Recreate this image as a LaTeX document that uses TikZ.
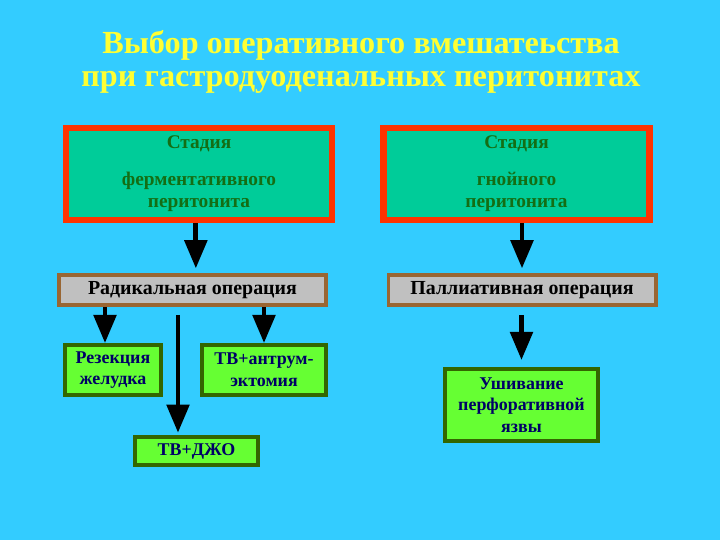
\documentclass[tikz,border=0pt]{standalone}
\usepackage{fontspec}
\setmainfont{Liberation Serif}
\usetikzlibrary{positioning,arrows.meta}
\definecolor{bgblue}{RGB}{51,204,255}
\definecolor{titleyellow}{RGB}{255,255,51}
\definecolor{stagefill}{RGB}{0,204,153}
\definecolor{stageborder}{RGB}{255,51,0}
\definecolor{stagetext}{RGB}{20,110,20}
\definecolor{opfill}{RGB}{192,192,192}
\definecolor{opborder}{RGB}{153,102,51}
\definecolor{resfill}{RGB}{102,255,51}
\definecolor{resborder}{RGB}{51,102,0}
\definecolor{restext}{RGB}{0,0,102}

\begin{document}
\begin{tikzpicture}[x=0.03cm,y=-0.03cm,
                every node/.style={align=center, inner sep=0pt, font=\bfseries},
                title/.style={text=titleyellow, font=\bfseries\fontsize{27.5}{28.5}\selectfont},
                stage/.style={rectangle, draw=stageborder, fill=stagefill, line width=5.5pt,
                    text=stagetext, minimum width=7.98cm, minimum height=2.76cm,
                    font=\bfseries\fontsize{16.5}{19.5}\selectfont},
                operation/.style={rectangle, draw=opborder, fill=opfill, line width=3.4pt,
                    minimum width=8.01cm, minimum height=0.9cm,
                    font=\bfseries\fontsize{17}{19}\selectfont},
                result/.style={rectangle, draw=resborder, fill=resfill, line width=3.4pt,
                    text=restext, font=\bfseries\fontsize{15.3}{18.5}\selectfont},
                arr/.style={line width=4pt, -{Triangle[length=24pt,width=19pt]}}]
    \fill[bgblue] (0,0) rectangle (720,540);
    \useasboundingbox (0,0) rectangle (720,540);

    \node[title] (title) at (361,62) {Выбор оперативного вмешатеьства\\при гастродуоденальных перитонитах};

    \node[stage] (stage1) at (199,174) {Стадия\\[11.5pt]ферментативного\\перитонита};
    \node[stage] (stage2) at (516.5,174) {Стадия\\[11.5pt]гнойного\\перитонита};

    \node[operation] (radical) at (192.5,290) {Радикальная операция};
    \node[operation] (palliative) at (522,290) {Паллиативная операция};

    \node[result, minimum width=2.88cm, minimum height=1.5cm] (resection) at (113,370) {Резекция\\желудка};
    \node[result, minimum width=3.72cm, minimum height=1.5cm] (antrum) at (264,370) {ТВ+антрум-\\эктомия};
    \node[result, minimum width=3.69cm, minimum height=0.84cm] (djo) at (196.5,451) {ТВ+ДЖО};
    \node[result, minimum width=4.59cm, minimum height=2.16cm] (suture) at (521.5,405) {Ушивание\\перфоративной\\язвы};

    \coordinate (vagot) at (178,315);

    \draw[arr, shorten >=4pt] ([xshift=0.1cm]stage1.south -| radical.north) -- ([xshift=0.1cm]radical.north);
    \draw[arr, shorten >=4pt] (stage2.south -| palliative.north) -- (palliative.north);
    \draw[arr] ([xshift=-0.24cm]radical.south -| resection.north) -- ([xshift=-0.24cm]resection.north);
    \draw[arr] (radical.south -| antrum.north) -- (antrum.north);
    \draw[arr, shorten >=2pt] (vagot) -- (vagot |- djo.north);
    \draw[arr, shorten <=7pt, shorten >=6pt] (palliative.south -| suture.north) -- (suture.north);
\end{tikzpicture}
\end{document}
